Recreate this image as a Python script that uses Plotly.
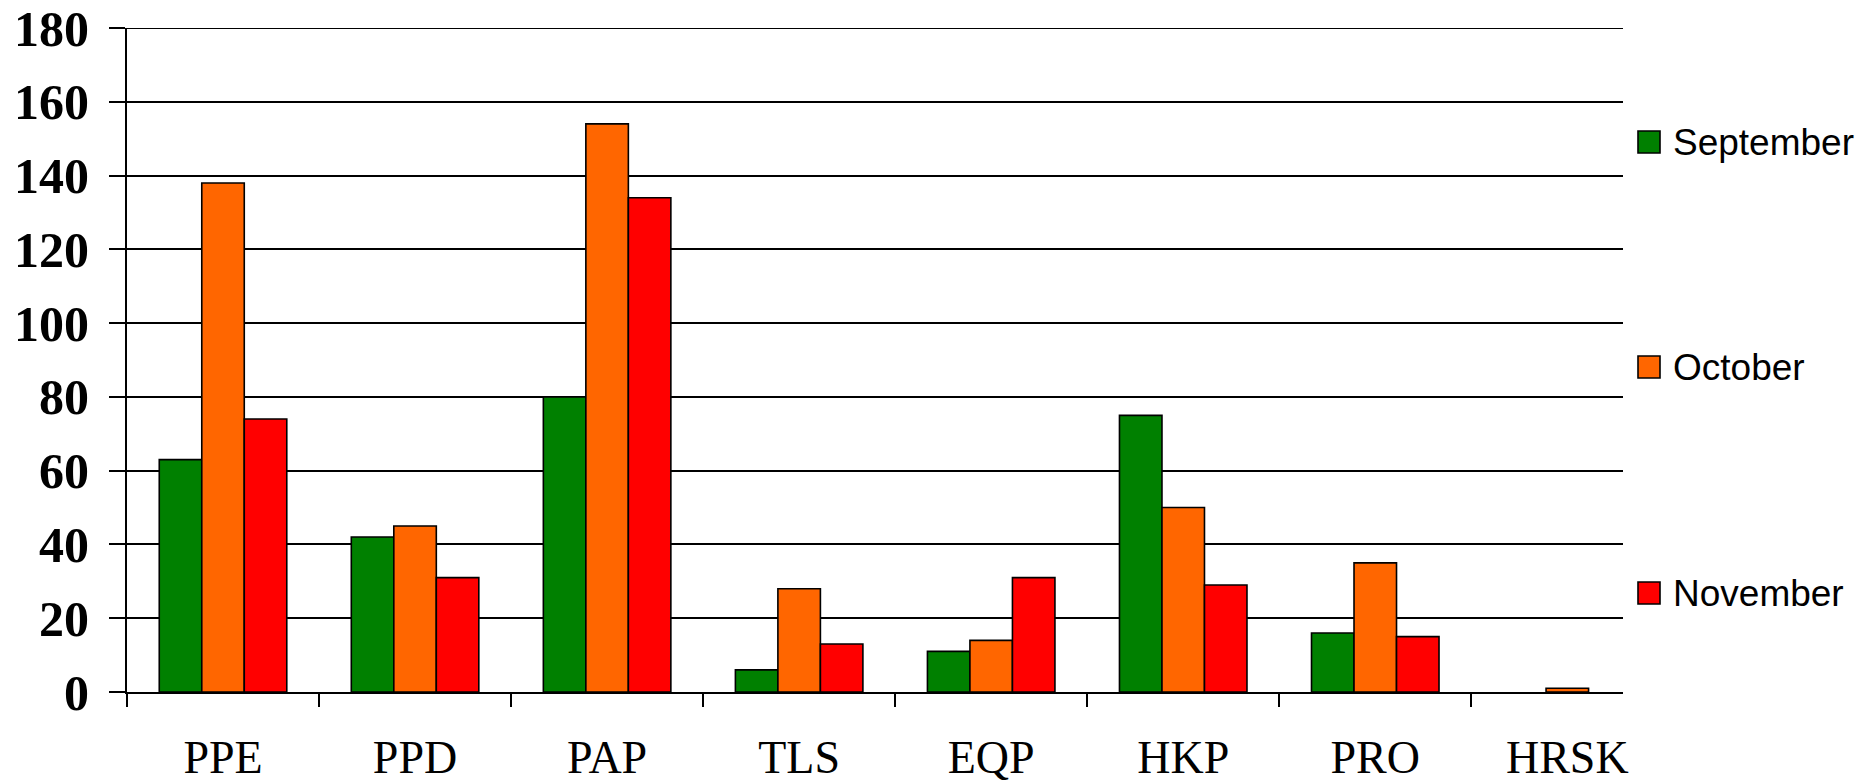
import plotly.graph_objects as go

categories = ["PPE", "PPD", "PAP", "TLS", "EQP", "HKP", "PRO", "HRSK"]
series_names = ["September", "October", "November"]
september = [63, 42, 80, 6, 11, 75, 16, None]
october = [138, 45, 154, 28, 14, 50, 35, 1]
november = [74, 31, 134, 13, 31, 29, 15, None]
colors = ["#008000", "#FF6600", "#FF0000"]
y_ticks = [0, 20, 40, 60, 80, 100, 120, 140, 160, 180]

W, H = 1868, 782
L, R, T, B = 127, 245, 28, 90
pw, ph = W - L - R, H - T - B

fig = go.Figure()
for name, vals, col in zip(series_names, [september, october, november], colors):
    fig.add_trace(go.Bar(
        x=categories, y=vals, name=name, showlegend=False,
        marker=dict(color=col, line=dict(color="black", width=1.6)),
    ))

# top gridline (plotly omits the grid line lying on the plot edge)
fig.add_shape(type="line", xref="paper", yref="y", x0=0, x1=1,
              y0=y_ticks[-1], y1=y_ticks[-1], line=dict(color="black", width=2))

# manual legend (large square keys like the original)
legend_y_px = [142, 367, 593]
for name, col, ypx in zip(series_names, colors, legend_y_px):
    yc = (H - B - ypx) / ph
    fig.add_shape(type="rect", xref="paper", yref="paper",
                  x0=(1638 - L) / pw, x1=(1660 - L) / pw,
                  y0=yc - 11 / ph, y1=yc + 11 / ph,
                  fillcolor=col, line=dict(color="black", width=1.6))
    fig.add_annotation(xref="paper", yref="paper", x=(1671 - L) / pw, y=yc,
                       text=name, showarrow=False, xanchor="left", yanchor="middle",
                       font=dict(family="Liberation Sans, Arial", size=37, color="black"))

fig.update_layout(
    width=W, height=H,
    margin=dict(l=L, r=R, t=T, b=B, pad=0, autoexpand=False),
    plot_bgcolor="white", paper_bgcolor="white",
    barmode="group", bargap=0.336, bargroupgap=0,
    showlegend=False,
)
fig.update_xaxes(
    type="category", range=[-0.5, 7.29], automargin=False,
    showline=True, linecolor="black", linewidth=2,
    ticks="outside", tickson="boundaries", ticklen=13, tickwidth=2, tickcolor="black",
    ticklabelstandoff=24,
    tickfont=dict(family="Liberation Serif, Times New Roman", size=46, color="black"),
    showgrid=False,
)
fig.update_yaxes(
    range=[0, 180], tickvals=y_ticks, automargin=False,
    showline=True, linecolor="black", linewidth=2,
    ticks="outside", ticklen=16, tickwidth=2, tickcolor="black",
    ticklabelstandoff=10,
    tickfont=dict(family="Liberation Serif, Times New Roman", size=50, color="black", weight="bold"),
    showgrid=True, gridcolor="black", gridwidth=1.6, zeroline=False,
)

fig.write_html("out.html", config={"displayModeBar": False},
               post_script="document.body.style.margin='0px';document.body.style.overflow='hidden';")
